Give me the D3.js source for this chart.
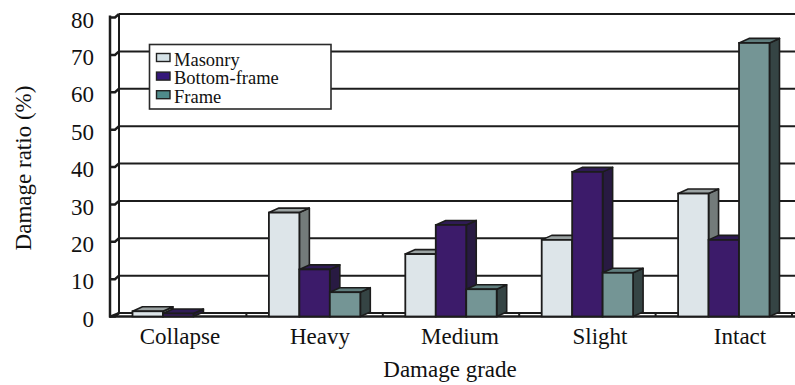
<!DOCTYPE html>
<html>
<head>
<meta charset="utf-8">
<script src="https://cdn.jsdelivr.net/npm/d3@7"></script>
<style>
  html, body { margin: 0; padding: 0; background: #fff; }
  svg { display: block; }
  text { font-family: "Liberation Serif", "Times New Roman", serif; fill: #111; }
</style>
</head>
<body>
<svg id="chart" width="795" height="385"></svg>
<script>
// Damage ratio by damage grade for three structure types
const categories = ["Collapse", "Heavy", "Medium", "Slight", "Intact"];
const seriesNames = ["Masonry", "Bottom-frame", "Frame"];
const masonry     = [1.4, 27.8, 16.7, 20.5, 32.9];
const bottomFrame = [0.8, 12.6, 24.5, 38.7, 20.5];
const frame       = [0.0, 6.5, 7.3, 11.7, 73.2];
const yTickValues = [0, 10, 20, 30, 40, 50, 60, 70, 80];

const seriesValues = [masonry, bottomFrame, frame];
const palette = [
  { front: "#dde5e9", side: "#737b7a", top: "#9ba3a3", swatch: "#d6e3e8" },
  { front: "#3c1b6a", side: "#281a42", top: "#2f1b55", swatch: "#35177a" },
  { front: "#749595", side: "#354444", top: "#5f7d7d", swatch: "#4f8b8b" }
];

const svg = d3.select("#chart");

// 3D layout: back wall and the front edge of the floor
const frontX = 110, backX = 119, rightX = 795;
const depthX = backX - frontX, depthY = 3.5;
const barDX = 10, barDY = 4.5;

const yBack = d3.scaleLinear().domain([0, 80]).range([313, 14]);
const yFront = v => yBack(v) + depthY;

const x = d3.scaleBand().domain(categories).range([frontX, 792])
  .paddingInner(0.33).paddingOuter(0.165);
const xSeries = d3.scaleBand().domain(seriesNames).range([0, x.bandwidth()]);
const xLabel = d3.scaleBand().domain(categories).range([frontX, 810]);

const ink = "#1c1c1c";

// back wall gridlines
svg.append("g").selectAll("line").data(yTickValues).join("line")
  .attr("x1", backX).attr("x2", rightX)
  .attr("y1", d => yBack(d)).attr("y2", d => yBack(d))
  .attr("stroke", ink).attr("stroke-width", 2);

// back wall left edge
svg.append("line")
  .attr("x1", backX).attr("x2", backX)
  .attr("y1", yBack(80)).attr("y2", yBack(0))
  .attr("stroke", ink).attr("stroke-width", 2);

// floor
svg.append("line")
  .attr("x1", frontX - 1).attr("x2", rightX)
  .attr("y1", yFront(0)).attr("y2", yFront(0))
  .attr("stroke", ink).attr("stroke-width", 2.5);
svg.append("line")
  .attr("x1", frontX).attr("x2", backX)
  .attr("y1", yFront(0)).attr("y2", yBack(0))
  .attr("stroke", ink).attr("stroke-width", 2);

// front vertical axis with its tick marks joining the wall
svg.append("line")
  .attr("x1", frontX).attr("x2", frontX)
  .attr("y1", yFront(80) - 2).attr("y2", yFront(0) + 1)
  .attr("stroke", ink).attr("stroke-width", 2.5);
svg.append("g").selectAll("path").data(yTickValues).join("path")
  .attr("d", d => `M${frontX},${yFront(d)} L${frontX + 5},${yFront(d)} L${backX},${yBack(d)}`)
  .attr("fill", "none").attr("stroke", ink).attr("stroke-width", 2.5);

// category tick marks on the floor
svg.append("g").selectAll("line").data(categories).join("line")
  .attr("x1", d => x(d) - x.step() * x.paddingOuter() + x.step())
  .attr("x2", d => x(d) - x.step() * x.paddingOuter() + x.step())
  .attr("y1", yFront(0)).attr("y2", yFront(0) - 3.5)
  .attr("stroke", ink).attr("stroke-width", 2);

// bars, drawn left to right so each front face covers its neighbour's side
const bars = [];
categories.forEach((c, i) => {
  seriesNames.forEach((s, j) => {
    bars.push({ cat: c, series: s, j, value: seriesValues[j][i] });
  });
});

const barG = svg.append("g");
bars.filter(b => b.value > 0).forEach(b => {
  const x0 = x(b.cat) + xSeries(b.series);
  const w = xSeries.bandwidth();
  const yt = yFront(b.value), yb = yFront(0);
  const col = palette[b.j];
  const g = barG.append("g");
  g.append("path")
    .attr("d", `M${x0 + w},${yt} L${x0 + w + barDX},${yt - barDY} L${x0 + w + barDX},${yb - barDY} L${x0 + w},${yb} Z`)
    .attr("fill", col.side).attr("stroke", ink).attr("stroke-width", 1.6).attr("stroke-linejoin", "round");
  g.append("path")
    .attr("d", `M${x0},${yt} L${x0 + barDX},${yt - barDY} L${x0 + w + barDX},${yt - barDY} L${x0 + w},${yt} Z`)
    .attr("fill", col.top).attr("stroke", ink).attr("stroke-width", 1.6).attr("stroke-linejoin", "round");
  g.append("rect")
    .attr("x", x0).attr("y", yt).attr("width", w).attr("height", yb - yt)
    .attr("fill", col.front).attr("stroke", ink).attr("stroke-width", 1.8);
});

// y tick labels
const yAxis = svg.append("g")
  .attr("transform", `translate(${frontX},0)`)
  .call(d3.axisLeft(d3.scaleLinear().domain([0, 80]).range([yFront(0), yFront(80)]))
    .tickValues(yTickValues).tickSize(0).tickPadding(16));
yAxis.select(".domain").remove();
yAxis.selectAll("text")
  .style("font-family", "'Liberation Serif', serif").style("font-size", "23px")
  .attr("fill", "#111").attr("dy", "0.42em");

// x category labels
const xAxis = svg.append("g")
  .attr("transform", `translate(0,${yFront(0)})`)
  .call(d3.axisBottom(xLabel).tickSize(0).tickPadding(0));
xAxis.select(".domain").remove();
xAxis.selectAll("text")
  .style("font-family", "'Liberation Serif', serif").style("font-size", "23px")
  .attr("fill", "#111").attr("dy", null).attr("y", 27.5);

// axis titles
svg.append("text")
  .attr("x", 450).attr("y", 377)
  .attr("text-anchor", "middle").style("font-size", "23px")
  .text("Damage grade");
svg.append("text")
  .attr("transform", "translate(31,168) rotate(-90)")
  .attr("text-anchor", "middle").style("font-size", "23px")
  .text("Damage ratio (%)");

// legend
const legend = svg.append("g");
legend.append("rect")
  .attr("x", 149.5).attr("y", 44.5).attr("width", 181.5).attr("height", 64.5)
  .attr("fill", "#fff").attr("stroke", "#2a2a2a").attr("stroke-width", 1.6);
const rows = legend.selectAll("g.row").data(seriesNames).join("g")
  .attr("class", "row")
  .attr("transform", (d, i) => `translate(156,${65.5 + i * 18.6})`);
rows.append("rect")
  .attr("x", 0.5).attr("y", -12).attr("width", 13.5).attr("height", 8)
  .attr("fill", (d, i) => palette[i].swatch)
  .attr("stroke", "#222").attr("stroke-width", 1.4);
rows.append("text")
  .attr("x", 18).attr("y", 0)
  .style("font-size", "18.5px")
  .text(d => d);
</script>
</body>
</html>
